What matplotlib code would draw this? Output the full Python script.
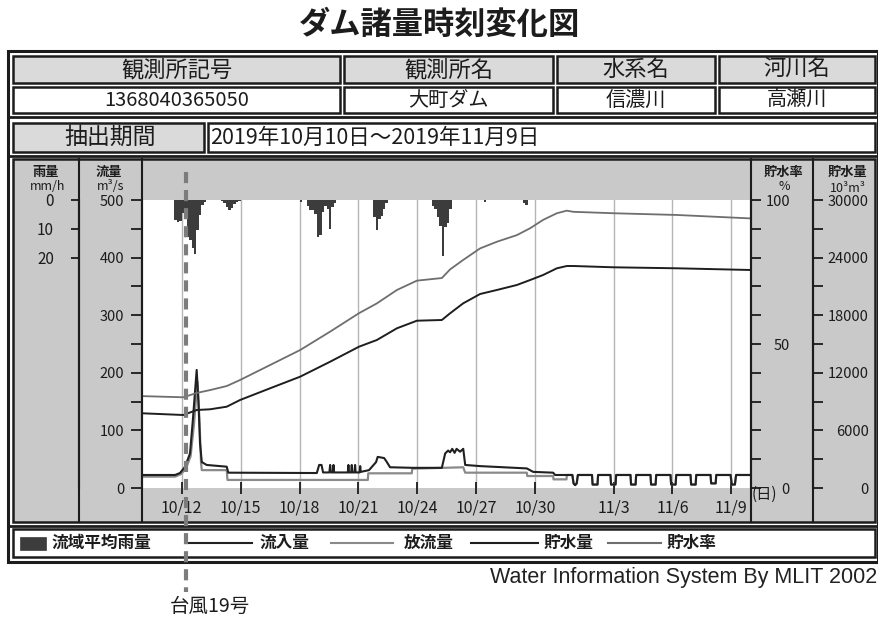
import matplotlib
matplotlib.use("Agg")
import matplotlib.pyplot as plt
from matplotlib.patches import Rectangle
from matplotlib.lines import Line2D
from matplotlib.transforms import blended_transform_factory
from matplotlib.ticker import MultipleLocator

plt.rcParams['font.family'] = ['Noto Sans CJK JP', 'DejaVu Sans']
plt.rcParams['lines.scale_dashes'] = False

# ---------------- data ----------------
TITLE = "ダム諸量時刻変化図"
HEADER_LABELS = ["観測所記号", "観測所名", "水系名", "河川名"]
HEADER_VALUES = ["1368040365050", "大町ダム", "信濃川", "高瀬川"]
PERIOD_LABEL = "抽出期間"
PERIOD_VALUE = "2019年10月10日～2019年11月9日"

# x values: days since 2019-10-10 00:00
TICK_DAYS = [2, 5, 8, 11, 14, 17, 20, 24, 27, 30]
TICK_LABELS = ["10/12", "10/15", "10/18", "10/21", "10/24",
               "10/27", "10/30", "11/3", "11/6", "11/9"]

TYPHOON_DAY = 2.22
TYPHOON_LABEL = "台風19号"

# basin average rainfall (mm/h), 3-hour bars
RAIN_DAY = [1.6875, 1.8125, 1.9375, 2.0625, 2.1875, 2.3125, 2.4375, 2.5625,
            2.6875, 2.8125, 2.9375, 3.0625, 3.1875,
            4.0625, 4.1875, 4.3125, 4.4375, 4.5625, 4.6875, 4.8125, 4.9375,
            8.0625,
            8.4375, 8.5625, 8.6875, 8.8125, 8.9375, 9.0625, 9.1875, 9.3125,
            9.4375, 9.5625, 9.6875, 9.8125,
            11.8125, 11.9375, 12.0625, 12.1875, 12.3125, 12.4375,
            14.8125, 14.9375, 15.0625, 15.1875, 15.3125, 15.4375, 15.5625, 15.6875,
            17.4375, 19.4375, 19.5625]
RAIN_MM = [7.0, 7.6, 7.2, 4.5, 6.0, 13.0, 14.0, 16.5,
           18.6, 10.5, 5.2, 1.7, 0.8,
           0.5, 1.2, 2.5, 3.5, 2.8, 1.5, 0.8, 0.4,
           0.6,
           2.0, 3.5, 3.5, 5.0, 12.8, 12.0, 4.0, 2.0,
           3.0, 10.2, 2.5, 1.0,
           6.0, 10.5, 6.5, 5.5, 3.0, 1.0,
           2.0, 3.0, 6.0, 9.0, 19.6, 9.3, 8.0, 3.0,
           0.7, 1.2, 1.7]

# inflow (m3/s)
INFLOW_DAY = [0.0, 1.66, 1.91, 2.17, 2.42, 2.57, 2.76, 2.85, 2.93, 3.02, 3.27,
              4.29, 4.37, 8.88, 9.0, 9.12, 9.2, 9.52, 9.56, 9.6, 9.7, 9.73,
              9.76, 10.46, 10.49, 10.52, 10.63, 10.66, 10.69, 10.8, 10.83,
              10.86, 11.06, 11.09, 11.12, 11.54, 11.9, 11.98, 12.31, 12.45,
              12.61, 13.79, 15.25, 15.42, 15.57, 15.67, 15.78, 15.9, 16.0,
              16.18, 16.34, 16.44, 17.2, 19.58, 19.9, 20.92, 21.02,
              21.9, 21.96, 22.04, 22.12, 22.18,
              22.9, 22.93, 23.18, 23.21,
              23.84, 23.87, 24.1, 24.13,
              24.86, 24.89, 25.12, 25.15,
              25.88, 25.91, 26.14, 26.17,
              26.9, 26.93, 27.16, 27.19,
              27.92, 27.95, 28.18, 28.21,
              28.94, 28.97, 29.2, 29.23,
              29.96, 30.02, 30.18, 30.24, 31.0]
INFLOW_CMS = [22.6, 22.6, 26, 37, 60, 120, 205, 150, 78, 45, 40,
              37, 26.6, 26, 40, 40, 27, 27, 40, 27, 27, 40,
              27, 27, 40, 27, 27, 40, 27, 27, 40,
              27, 27, 38, 28, 31, 45, 54, 52, 45,
              36, 35, 35, 60, 65, 62, 68, 61, 68,
              63, 68, 40, 38, 34, 28, 26.6, 22.6,
              22.6, 8, 5, 8, 22.6,
              22.6, 6, 6, 22.6,
              22.6, 6, 6, 22.6,
              22.6, 6, 6, 22.6,
              22.6, 6, 6, 22.6,
              22.6, 6, 6, 22.6,
              22.6, 6, 6, 22.6,
              22.6, 8, 8, 22.6,
              22.6, 6, 6, 22.6, 22.6]

# outflow (m3/s)
OUTFLOW_DAY = [0.0, 1.66, 1.95, 2.2, 2.45, 2.62, 2.8, 2.9, 2.98, 3.02, 4.29,
               4.33, 11.48, 11.5, 13.72, 13.74, 16.34, 16.44, 19.58, 19.6,
               20.92, 20.94, 21.6, 21.62,
               21.9, 21.96, 22.04, 22.12, 22.18,
               22.9, 22.93, 23.18, 23.21,
               23.84, 23.87, 24.1, 24.13,
               24.86, 24.89, 25.12, 25.15,
               25.88, 25.91, 26.14, 26.17,
               26.9, 26.93, 27.16, 27.19,
               27.92, 27.95, 28.18, 28.21,
               28.94, 28.97, 29.2, 29.23,
               29.96, 30.02, 30.18, 30.24, 31.0]
OUTFLOW_CMS = [19.7, 19.7, 24, 33, 55, 110, 185, 120, 45, 31, 31,
               14, 14, 25.5, 25.5, 33.5, 36, 26.6, 26.6, 20.8,
               20.8, 15, 15, 22.6,
               22.6, 8, 5, 8, 22.6,
               22.6, 6, 6, 22.6,
               22.6, 6, 6, 22.6,
               22.6, 6, 6, 22.6,
               22.6, 6, 6, 22.6,
               22.6, 6, 6, 22.6,
               22.6, 6, 6, 22.6,
               22.6, 8, 8, 22.6,
               22.6, 6, 6, 22.6, 22.6]

# storage rate (%) and storage volume (10^3 m3)
STORE_DAY = [0.0, 2.08, 2.76, 3.44, 4.29, 4.97, 6.5, 8.03, 9.56, 11.03,
             11.94, 12.96, 13.98, 15.25, 15.67, 16.34, 17.2, 18.05, 19.07,
             19.75, 20.41, 21.11, 21.62, 21.94, 24.0, 27.23, 31.0]
RATE_PCT = [31.9, 31.5, 33.0, 34.0, 35.4, 37.5, 42.7, 47.9, 54.3, 60.7,
            64.1, 68.75, 72.0, 72.9, 75.9, 79.2, 83.2, 85.5, 87.8,
            90.2, 93.1, 95.4, 96.3, 95.9, 95.4, 94.8, 93.6]
VOLUME_1000M3 = [7781, 7604, 8125, 8198, 8469, 9167, 10386, 11594, 13156, 14719,
                 15417, 16636, 17427, 17500, 18198, 19240, 20209, 20625, 21146,
                 21667, 22188, 22886, 23125, 23125, 22990, 22886, 22708]

FLOW_TICKS = [0, 100, 200, 300, 400, 500]
RAIN_TICKS = [0, 10, 20]
RATE_TICKS = [0, 50, 100]
VOLUME_TICKS = [0, 6000, 12000, 18000, 24000, 30000]

LEGEND_LABELS = ["流域平均雨量", "流入量", "放流量", "貯水量", "貯水率"]
CREDIT = "Water Information System By MLIT 2002"

# ---------------- layout helpers ----------------
W, H, DPI = 879, 621, 100
fig = plt.figure(figsize=(W / DPI, H / DPI), dpi=DPI)
fig.patch.set_facecolor('white')

def fx(x):
    return x / W

def fy(y):
    return 1 - y / H

INK = '#1c1c1c'
PANEL = '#c9c9c9'
CELL = '#dadada'

def rect(x0, y0, x1, y1, fc='none', ec=INK, lw=1.5, z=1):
    fig.add_artist(Rectangle((fx(x0), fy(y1)), fx(x1) - fx(x0), fy(y0) - fy(y1),
                             transform=fig.transFigure, facecolor=fc,
                             edgecolor=ec, linewidth=lw, zorder=z))

def line(xs, ys, color=INK, lw=1.5, z=5, **kw):
    fig.add_artist(Line2D([fx(v) for v in xs], [fy(v) for v in ys],
                          transform=fig.transFigure, color=color, lw=lw,
                          zorder=z, **kw))

def txt(x, y, s, size, ha='center', va='center', **kw):
    fig.text(fx(x), fy(y), s, fontsize=size, ha=ha, va=va, color=INK, **kw)

# title
txt(440, 25, TITLE, 22.5, weight='bold')

# outer frame
rect(8, 51, 878, 562, lw=2.2, z=1)
line([8, 878], [117, 117], lw=2.0, z=1)
line([8, 878], [155.5, 155.5], lw=2.0, z=1)
line([8, 878], [525.5, 525.5], lw=2.0, z=1)

# header table
col_x = [(13, 340), (344, 553), (557, 715), (719, 875)]
for (x0, x1), lab, val in zip(col_x, HEADER_LABELS, HEADER_VALUES):
    rect(x0, 56, x1, 83, fc=CELL, lw=1.8)
    rect(x0, 87, x1, 113, fc='white', lw=1.8)
    txt((x0 + x1) / 2, 69.5, lab, 16)
    txt((x0 + x1) / 2, 100.5, val, 14.5)
rect(13, 123, 204, 152, fc=CELL, lw=1.8)
rect(208, 123, 875, 152, fc='white', lw=1.8)
txt(110, 137.5, PERIOD_LABEL, 16.5)
txt(210, 137.5, PERIOD_VALUE, 15.5, ha='left')

# chart panel background
rect(13, 159, 875, 522, fc=PANEL, lw=1.8, z=-1)

# ---------------- axes ----------------
PX0, PX1, PY0, PY1 = 142.5, 751, 200, 488
ax = fig.add_axes([fx(PX0), fy(PY1), fx(PX1) - fx(PX0), fy(PY0) - fy(PY1)])
ax.set_facecolor('white')
ax.set_xlim(0, 31)
ax.set_ylim(0, 500)
ax.set_xticks(TICK_DAYS, TICK_LABELS)
ax.set_yticks(FLOW_TICKS)
ax.yaxis.set_minor_locator(MultipleLocator(50))
ax.grid(axis='x', color='#b5b5b5', lw=1.0)
for s in ['top', 'right', 'bottom']:
    ax.spines[s].set_visible(False)
ax.spines['left'].set_linewidth(1.5)
ax.tick_params(axis='y', which='both', direction='out', length=8, width=1.3,
               pad=5, labelsize=10.5, colors=INK)
ax.tick_params(axis='x', which='major', direction='inout', length=9, width=1.3,
               pad=4, labelsize=11.5, colors=INK)

# flows
ax.plot(OUTFLOW_DAY, OUTFLOW_CMS, color='#8a8a8a', lw=1.6, zorder=3)
ax.plot(INFLOW_DAY, INFLOW_CMS, color='#202020', lw=1.5, zorder=4)

# rain axis
ax_rain = ax.twinx()
ax_rain.set_ylim(100, 0)
ax_rain.yaxis.tick_left()
ax_rain.spines['left'].set_position(('axes', (79 - PX0) / (PX1 - PX0)))
ax_rain.spines['left'].set_visible(True)
ax_rain.spines['left'].set_linewidth(1.5)
for s in ['top', 'right', 'bottom']:
    ax_rain.spines[s].set_visible(False)
ax_rain.set_yticks(RAIN_TICKS)
ax_rain.tick_params(axis='y', direction='out', length=6, width=1.3, pad=12,
                    labelsize=11, colors=INK)
ax_rain.bar(RAIN_DAY, RAIN_MM, width=0.125, color='#3c3c3c', align='center',
            linewidth=0)

# storage rate axis
ax_rate = ax.twinx()
ax_rate.set_ylim(0, 100)
for s in ['top', 'left', 'bottom']:
    ax_rate.spines[s].set_visible(False)
ax_rate.spines['right'].set_linewidth(1.5)
ax_rate.set_yticks(RATE_TICKS)
ax_rate.yaxis.set_minor_locator(MultipleLocator(10))
ax_rate.tick_params(axis='y', which='both', direction='out', length=7, width=1.3,
                    pad=21, labelsize=10.5, colors=INK)
plt.setp(ax_rate.get_yticklabels(), ha='right')
ax_rate.plot(STORE_DAY, RATE_PCT, color='#6e6e6e', lw=1.3)

# storage volume axis
ax_vol = ax.twinx()
ax_vol.set_ylim(0, 30000)
for s in ['top', 'left', 'bottom']:
    ax_vol.spines[s].set_visible(False)
ax_vol.spines['right'].set_position(('axes', (813 - PX0) / (PX1 - PX0)))
ax_vol.spines['right'].set_linewidth(1.5)
ax_vol.set_yticks(VOLUME_TICKS)
ax_vol.yaxis.set_minor_locator(MultipleLocator(3000))
ax_vol.tick_params(axis='y', which='both', direction='out', length=7, width=1.3,
                   pad=33, labelsize=10.5, colors=INK)
plt.setp(ax_vol.get_yticklabels(), ha='right')
ax_vol.plot(STORE_DAY, VOLUME_1000M3, color='#1e1e1e', lw=1.4)

# panel column separators
for xs in [79, PX0, PX1, 813]:
    line([xs, xs], [159, 522], lw=1.5, z=6)

# column headings
txt(46, 172, "雨量", 9.5, weight='bold')
txt(48, 187, "mm/h", 9)
txt(109, 172, "流量", 9.5, weight='bold')
txt(111, 187, "m³/s", 9)
txt(784, 172, "貯水率", 9.5, weight='bold')
txt(784, 187, "%", 9)
txt(848, 172, "貯水量", 9.5, weight='bold')
txt(848, 188, "10³m³", 9)
txt(764, 494, "(日)", 11)

# legend row
rect(13, 529, 875, 557, fc='white', lw=1.8, z=1)
rect(20, 537, 46, 550, fc='#3c3c3c', ec='#3c3c3c', lw=0.5, z=2)
txt(52, 543, LEGEND_LABELS[0], 12, ha='left', weight='bold')
leg = [(189, 252, 260, '#202020', LEGEND_LABELS[1]),
       (331, 393, 404, '#8a8a8a', LEGEND_LABELS[2]),
       (471, 538, 544, '#1e1e1e', LEGEND_LABELS[3]),
       (608, 661, 667, '#6e6e6e', LEGEND_LABELS[4])]
for x0, x1, xt, c, lab in leg:
    line([x0, x1], [543, 543], color=c, lw=1.5, z=3)
    txt(xt, 543, lab, 12, ha='left', weight='bold')

# credit
fig.text(fx(877), fy(578), CREDIT, fontsize=15.5, ha='right', va='center',
         color='#222222', family=['Liberation Sans', 'DejaVu Sans'])

# typhoon marker
trans = blended_transform_factory(ax.transData, fig.transFigure)
fig.add_artist(Line2D([TYPHOON_DAY, TYPHOON_DAY], [fy(172), fy(592)],
                      transform=trans, color='#7c7c7c', lw=3.0,
                      dashes=(8, 5), zorder=8))
txt(210, 606, TYPHOON_LABEL, 14)

fig.savefig("out.png", dpi=DPI)
